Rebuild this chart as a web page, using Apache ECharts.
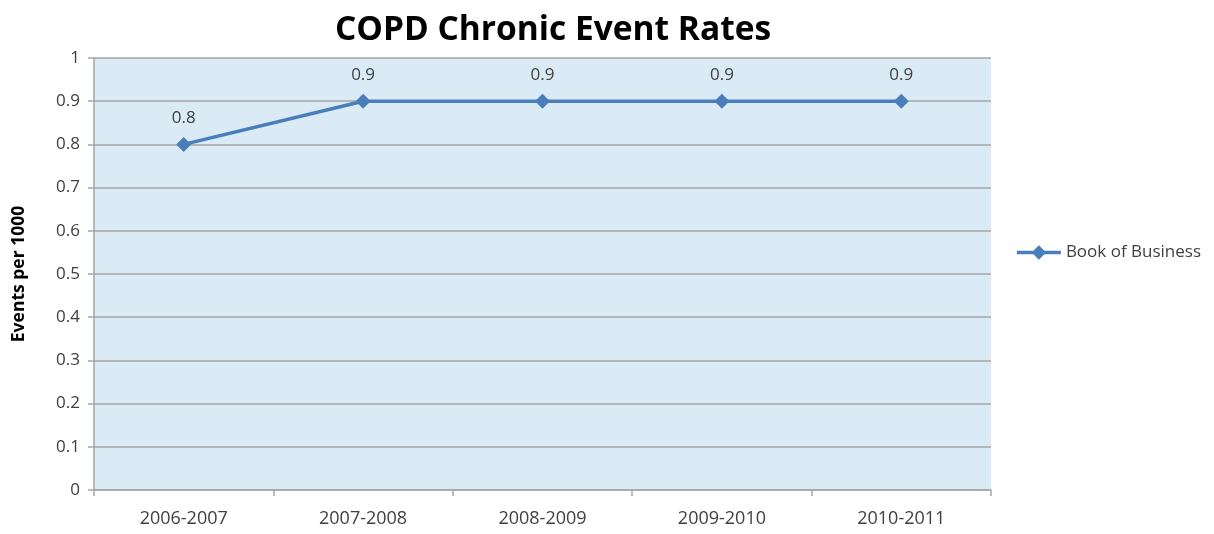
<!DOCTYPE html>
<html>
<head>
<meta charset="utf-8">
<script src="https://cdn.jsdelivr.net/npm/echarts@6/dist/echarts.min.js"></script>
<style>
  html, body { margin: 0; padding: 0; background: #fff; }
  #chart { width: 1214px; height: 534px; }
</style>
</head>
<body>
<div id="chart"></div>
<script>
const categories = ['2006-2007', '2007-2008', '2008-2009', '2009-2010', '2010-2011'];
const bookOfBusiness = [0.8, 0.9, 0.9, 0.9, 0.9];
const yTicks = { min: 0, max: 1, interval: 0.1 };

const font = '"Open Sans", "Noto Sans", sans-serif';
const textColor = '#404040';
const gridColor = '#a6a6a6';
const lineColor = '#4a7ebb';

const chart = echarts.init(document.getElementById('chart'));

chart.setOption({
  animation: false,
  textStyle: { fontFamily: font },
  title: {
    text: 'COPD Chronic Event Rates',
    left: 548,
    top: 8,
    textAlign: 'center',
    textStyle: { fontSize: 33.5, fontWeight: 'bold', color: '#000', fontFamily: font }
  },
  legend: {
    right: 8,
    top: 239,
    itemWidth: 44,
    itemHeight: 18,
    itemGap: 4,
    lineStyle: { width: 3.5 },
    textStyle: { fontSize: 17, color: textColor, fontFamily: font },
    data: ['Book of Business']
  },
  grid: {
    left: 94,
    right: 223,
    top: 58,
    bottom: 44,
    show: true,
    backgroundColor: '#dbebf5',
    borderWidth: 0
  },
  xAxis: {
    type: 'category',
    data: categories,
    boundaryGap: true,
    axisLine: { lineStyle: { color: gridColor, width: 1.5 } },
    axisTick: { show: true, length: 6, lineStyle: { color: gridColor, width: 1.5 } },
    axisLabel: { fontSize: 18, color: textColor, margin: 20, fontFamily: font }
  },
  yAxis: {
    type: 'value',
    min: yTicks.min,
    max: yTicks.max,
    interval: yTicks.interval,
    name: 'Events per 1000',
    nameLocation: 'middle',
    nameGap: 66,
    nameTextStyle: { fontSize: 17.5, fontWeight: 'bold', color: '#000', fontFamily: font },
    axisLine: { show: true, lineStyle: { color: gridColor, width: 1.5 } },
    axisTick: { show: true, length: 6, lineStyle: { color: gridColor, width: 1.5 } },
    splitLine: { lineStyle: { color: gridColor, width: 1.5 } },
    axisLabel: {
      fontSize: 17,
      color: textColor,
      margin: 14,
      fontFamily: font,
      formatter: (v) => String(Math.round(v * 10) / 10)
    }
  },
  series: [
    {
      name: 'Book of Business',
      type: 'line',
      data: bookOfBusiness,
      symbol: 'diamond',
      symbolSize: 15,
      lineStyle: { color: lineColor, width: 3.5 },
      itemStyle: { color: lineColor },
      label: {
        show: true,
        position: 'top',
        distance: 10,
        fontSize: 17,
        color: textColor,
        fontFamily: font
      }
    }
  ]
});
</script>
</body>
</html>
